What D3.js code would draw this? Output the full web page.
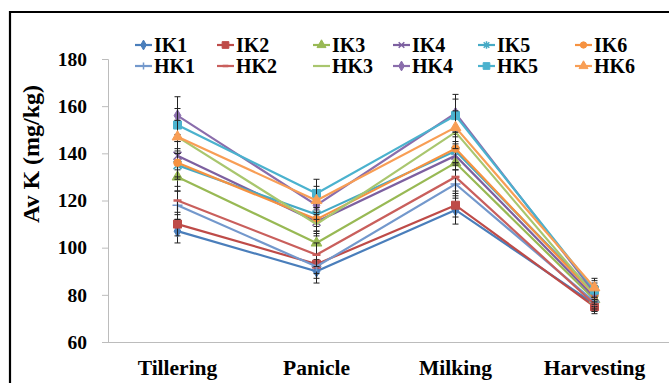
<html>
<head>
  <title>Av K</title>
  <script src="https://cdnjs.cloudflare.com/ajax/libs/d3/7.8.5/d3.min.js"></script>
  <style>
    body { margin: 0; background: #fff; }
    svg text { font-family: "Liberation Serif", "Times New Roman", serif; font-weight: bold; }
  </style>
</head>
<body>
  <script>
    // stages along x
    const stages = ["Tillering", "Panicle", "Milking", "Harvesting"];
    const yTicks = [60, 80, 100, 120, 140, 160, 180];

    // Av K (mg/kg) per stage
    const IK1 = [107, 90, 116, 76];
    const IK2 = [110, 93, 118, 75];
    const IK3 = [130, 102, 136, 78];
    const IK4 = [139, 111, 139, 79];
    const IK5 = [135, 114, 141, 81];
    const IK6 = [136, 112, 142, 80];
    const HK1 = [118, 92, 127, 77];
    const HK2 = [120, 97, 130, 76];
    const HK3 = [147, 110, 149, 80];
    const HK4 = [156, 118, 157, 81];
    const HK5 = [152, 123, 156, 82];
    const HK6 = [147, 120, 151, 83];

    // error bar half-widths
    const IK1err = [5, 5, 6, 3];
    const IK2err = [5, 4, 5, 3];
    const IK3err = [6, 5, 6, 3];
    const IK4err = [6, 5, 6, 3];
    const IK5err = [6, 5, 6, 3];
    const IK6err = [6, 5, 6, 3];
    const HK1err = [6, 5, 6, 3];
    const HK2err = [6, 5, 6, 3];
    const HK3err = [7, 5, 7, 4];
    const HK4err = [8, 6, 8, 4];
    const HK5err = [7, 6, 7, 4];
    const HK6err = [7, 6, 7, 4];

    const series = [
      { name: "IK1", values: IK1, err: IK1err, color: "#4A7EBB", marker: "diamond" },
      { name: "IK2", values: IK2, err: IK2err, color: "#BE4B48", marker: "square" },
      { name: "IK3", values: IK3, err: IK3err, color: "#98B954", marker: "triangle" },
      { name: "IK4", values: IK4, err: IK4err, color: "#7D60A0", marker: "x" },
      { name: "IK5", values: IK5, err: IK5err, color: "#46AAC5", marker: "star" },
      { name: "IK6", values: IK6, err: IK6err, color: "#F69240", marker: "circle" },
      { name: "HK1", values: HK1, err: HK1err, color: "#7398CC", marker: "plus" },
      { name: "HK2", values: HK2, err: HK2err, color: "#C95F5C", marker: "dash" },
      { name: "HK3", values: HK3, err: HK3err, color: "#A9C66E", marker: "none" },
      { name: "HK4", values: HK4, err: HK4err, color: "#8A6DAC", marker: "diamond" },
      { name: "HK5", values: HK5, err: HK5err, color: "#4BB2CE", marker: "square" },
      { name: "HK6", values: HK6, err: HK6err, color: "#F89E55", marker: "triangle" }
    ];

    const width = 669, height = 383;

    const svg = d3.select("body")
      .append("svg")
      .attr("width", width)
      .attr("height", height);

    // outer frame (cut off at right and bottom)
    svg.append("path")
      .attr("d", `M10,${height + 5}V12H${width + 5}`)
      .attr("fill", "none")
      .attr("stroke", "#000")
      .attr("stroke-width", 2.2);

    const x = d3.scaleBand()
      .domain(stages)
      .range([108, 664]);

    const y = d3.scaleLinear()
      .domain([60, 180])
      .range([342, 59]);

    const cx = d => x(d) + x.bandwidth() / 2;

    // axes
    const yAxis = svg.append("g")
      .attr("transform", "translate(108,0)")
      .call(d3.axisLeft(y).tickValues(yTicks).tickSize(6).tickPadding(15));
    yAxis.attr("font-family", null);
    yAxis.select(".domain").attr("stroke", "#bcbcbc");
    yAxis.selectAll(".tick line").attr("stroke", "#bcbcbc");
    yAxis.selectAll("text").attr("font-size", 19.5).attr("fill", "#000");

    const xAxis = svg.append("g")
      .attr("transform", "translate(0,342)")
      .call(d3.axisBottom(x).tickSize(0).tickPadding(18));
    xAxis.attr("font-family", null);
    xAxis.select(".domain").attr("d", `M108,0.5H${width}`).attr("stroke", "#bcbcbc");
    xAxis.selectAll("text").attr("font-size", 21.5).attr("fill", "#000");

    svg.append("text")
      .attr("transform", "translate(31,154) rotate(-90)")
      .attr("text-anchor", "middle")
      .attr("dy", "0.35em")
      .attr("font-size", 24)
      .text("Av K (mg/kg)");

    // marker drawing
    function drawMarker(g, kind, color, s) {
      const sym = {
        diamond: d3.symbolDiamond, square: d3.symbolSquare,
        triangle: d3.symbolTriangle, circle: d3.symbolCircle
      };
      if (sym[kind]) {
        const size = { diamond: 40 * s, square: 64 * s, triangle: 50 * s, circle: 45 * s }[kind];
        g.append("path").attr("d", d3.symbol(sym[kind], size)()).attr("fill", color).attr("stroke", color);
      } else if (kind === "x") {
        const r = 4 * s;
        g.append("path").attr("d", `M${-r},${-r}L${r},${r}M${-r},${r}L${r},${-r}`)
          .attr("stroke", color).attr("stroke-width", 1.5);
      } else if (kind === "star") {
        const r = 4 * s;
        g.append("path").attr("d", `M${-r},${-r}L${r},${r}M${-r},${r}L${r},${-r}M0,${-r - 1}V${r + 1}`)
          .attr("stroke", color).attr("stroke-width", 1.5);
      } else if (kind === "plus") {
        const r = 5 * s;
        g.append("path").attr("d", `M${-r},0H${r}M0,${-r}V${r}`)
          .attr("stroke", color).attr("stroke-width", 1.5);
      } else if (kind === "dash") {
        const r = 4 * s;
        g.append("path").attr("d", `M${-r},0H${r}`)
          .attr("stroke", color).attr("stroke-width", 2.5);
      }
    }

    const line = d3.line()
      .x((d, i) => cx(stages[i]))
      .y(d => y(d));

    const plot = svg.append("g");

    series.forEach(s => {
      const g = plot.append("g");
      g.append("path")
        .attr("d", line(s.values))
        .attr("fill", "none")
        .attr("stroke", s.color)
        .attr("stroke-width", 2.2);

      // error bars
      s.values.forEach((v, i) => {
        const px = cx(stages[i]);
        const e = s.err[i];
        g.append("path")
          .attr("d", `M${px},${y(v + e)}V${y(v - e)}M${px - 3},${y(v + e)}H${px + 3}M${px - 3},${y(v - e)}H${px + 3}`)
          .attr("stroke", "#222")
          .attr("stroke-width", 1)
          .attr("fill", "none");
      });

      s.values.forEach((v, i) => {
        const m = g.append("g").attr("transform", `translate(${cx(stages[i])},${y(v)})`);
        drawMarker(m, s.marker, s.color, 1);
      });
    });

    // legend: two rows, six columns
    const legendCols = [135, 217, 313, 393, 478, 575];
    const legendRows = [45, 66];

    series.forEach((s, k) => {
      const lx = legendCols[k % 6];
      const ly = legendRows[Math.floor(k / 6)];
      const g = svg.append("g").attr("transform", `translate(${lx},${ly})`);
      g.append("line")
        .attr("x1", 0).attr("x2", 17)
        .attr("stroke", s.color).attr("stroke-width", 2.2);
      const m = g.append("g").attr("transform", "translate(8.5,0)");
      drawMarker(m, s.marker, s.color, 0.7);
      g.append("text")
        .attr("x", 19)
        .attr("y", 7)
        .attr("font-size", 20)
        .text(s.name);
    });
  </script>
</body>
</html>
